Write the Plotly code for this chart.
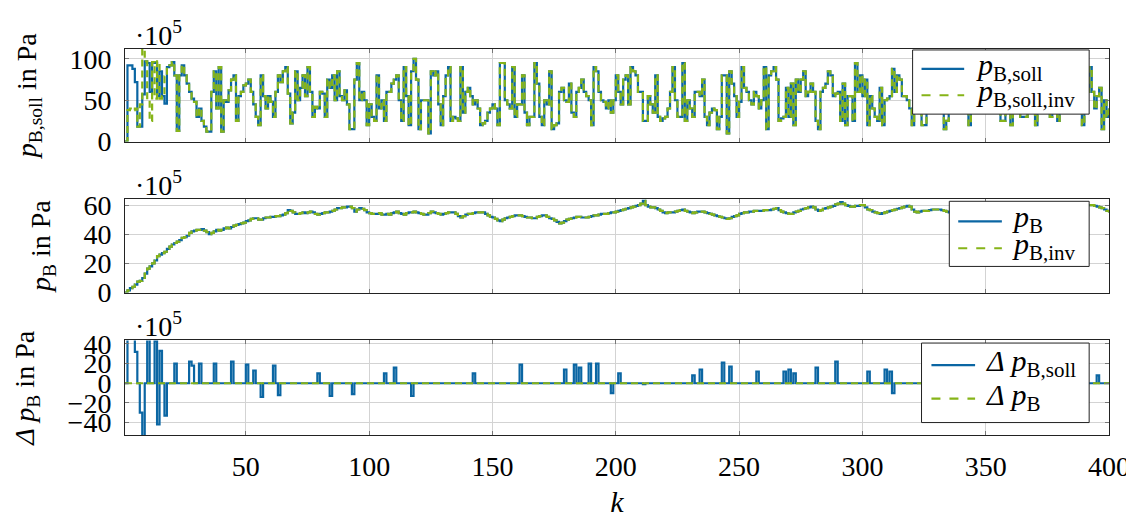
import plotly.graph_objects as go
from plotly.subplots import make_subplots

# ---------------- data ----------------
k = list(range(1, 401))

p_soll = [
    0, 92, 92, 88, 72, 18, 18, 57, 97, 95,
    60, 96, 95, 55, 85, 55, 46, 90, 92, 96,
    80, 13, 80, 92, 80, 70, 60, 52, 48, 30,
    40, 25, 18, 12, 12, 60, 85, 40, 90, 12,
    50, 48, 62, 75, 80, 25, 55, 60, 68, 70,
    75, 60, 45, 30, 20, 80, 55, 40, 55, 48,
    30, 60, 80, 72, 85, 90, 58, 22, 35, 85,
    50, 65, 80, 55, 90, 60, 30, 42, 40, 60,
    58, 30, 75, 65, 80, 50, 85, 55, 50, 62,
    45, 15, 15, 75, 95, 50, 60, 50, 20, 45,
    30, 25, 80, 40, 50, 25, 60, 60, 70, 75,
    80, 50, 25, 90, 55, 20, 85, 100, 75, 15,
    50, 50, 50, 10, 85, 80, 85, 45, 20, 55,
    80, 90, 25, 30, 28, 25, 90, 35, 60, 65,
    55, 45, 50, 40, 20, 22, 25, 35, 40, 45,
    40, 20, 95, 95, 50, 45, 40, 90, 30, 45,
    45, 80, 35, 20, 30, 30, 95, 70, 30, 20,
    50, 45, 85, 15, 20, 22, 60, 65, 50, 48,
    70, 35, 30, 60, 65, 75, 60, 55, 50, 20,
    90, 85, 60, 50, 48, 40, 50, 35, 50, 80,
    60, 45, 75, 80, 45, 90, 85, 80, 60, 60,
    25, 25, 55, 45, 35, 80, 30, 25, 28, 30,
    40, 60, 90, 50, 30, 30, 95, 25, 50, 40,
    30, 60, 60, 55, 75, 30, 20, 35, 40, 38,
    15, 30, 80, 80, 10, 85, 70, 55, 30, 48,
    90, 65, 60, 50, 45, 60, 55, 40, 50, 90,
    15, 80, 85, 90, 75, 25, 28, 30, 65, 30,
    70, 20, 75, 60, 75, 85, 55, 60, 70, 60,
    25, 15, 60, 65, 70, 85, 80, 55, 58, 60,
    25, 70, 20, 55, 55, 25, 95, 60, 80, 55,
    75, 20, 55, 40, 30, 25, 65, 20, 50, 52,
    55, 88, 60, 80, 75, 55, 55, 50, 40, 20,
    50, 60, 45, 20, 20, 70, 55, 65, 45, 60,
    50, 40, 15, 25, 55, 60, 75, 50, 45, 70,
    55, 60, 20, 45, 80, 65, 50, 55, 70, 60,
    45, 85, 60, 50, 40, 25, 25, 55, 70, 20,
    50, 65, 75, 30, 30, 30, 60, 45, 80, 20,
    55, 65, 40, 70, 50, 30, 60, 50, 25, 45,
    70, 55, 60, 40, 65, 50, 75, 55, 20, 45,
    60, 90, 60, 40, 55, 65, 15, 50, 30, 40,
]

# first samples of the inverse-model setpoint (afterwards identical to p_soll)
p_soll_inv_head = [0, 38, 40, 38, 40, 18, 45, 112, 97, 50,
                   25, 96, 52, 97, 52, 55, 79]

# spikes of the difference signal (k -> value, 1e5 Pa)
dsoll_k = [2, 3, 4, 5, 7, 8, 10, 13, 14, 15, 17, 21, 27, 28, 31, 37, 44, 50, 53, 56,
           61, 63, 79, 84, 93, 106, 110, 117, 142, 161, 179, 183, 185, 189, 192, 198,
           201, 211, 231, 234, 243, 246, 257, 268, 270, 272, 281, 289, 302, 309, 311,
           312, 395]
dsoll_v = [52, 52, 48, 32, -30, -55, 45, 43, -42, 33, -33, 20, 22, 18, 20, 20, 22, 19, 13, -14,
           18, -12, 10, -13, -11, 10, 16, -13, 10, 19, 14, 19, 16, 20, 20, -10,
           10, -1, 8, 14, 21, 17, 12, 12, 14, 10, 16, 22, 12, 14, 12,
           -10, 8]

p_B = [
    0, 1.5, 3, 4, 5.5, 7.5, 8, 10, 13, 16.5,
    18, 20, 22, 25, 26, 27, 28, 30, 31.5, 33,
    34, 35, 36, 37.5, 38, 39, 41, 42, 42.5, 43,
    43, 43.5, 42.5, 41.5, 40, 41, 42, 43, 42.5, 43,
    44, 44.5, 44, 45, 46, 46.5, 47, 47.5, 48, 49,
    49.5, 50.5, 51, 51, 50, 50, 51, 51.5, 51.5, 52,
    52, 52.5, 52.5, 53, 53.5, 54.5, 56.5, 56, 55, 54,
    54, 54.5, 55, 54.5, 55, 55.5, 55, 54, 53.5, 54,
    54.5, 55, 55, 55.5, 56, 57, 58, 58, 58.5, 58.5,
    59, 59, 58, 55.5, 57, 58, 57.5, 56.5, 55, 54.5,
    54, 54, 54, 54.5, 53.5, 53.5, 54, 53.5, 54.5, 55,
    55.5, 54.5, 54, 53.5, 54.5, 55, 55, 55.5, 55, 54.5,
    54, 53.5, 53.5, 54.5, 55.5, 55, 54.5, 54, 53.5, 54,
    54.5, 55, 55, 55, 54, 52.5, 51.5, 52.5, 53.5, 54,
    54, 54.5, 55, 55, 55, 55, 54, 53, 52, 51.5,
    50.5, 49.5, 49, 50, 51, 51.5, 52, 52.5, 53, 53,
    53, 52.5, 52, 51.5, 51.5, 51, 51, 52, 52.5, 53,
    53, 52, 51, 50.5, 49.5, 48.5, 47.5, 48, 49, 50,
    50.5, 51, 51.5, 52, 52, 51.5, 51.5, 51.5, 52, 52.5,
    53, 53, 53.5, 54, 54, 54, 54.5, 55, 55, 55.5,
    56, 56.5, 57, 57.5, 58, 58.5, 59, 59.5, 60, 61,
    63, 60, 59, 58.5, 58.5, 58, 57, 56, 55, 54.5,
    55, 55, 55, 55.5, 56, 56.5, 57, 56, 55.5, 55,
    54.5, 55, 55.5, 55.5, 55.5, 55, 54.5, 54, 53.5, 53,
    52.5, 52, 51.5, 51, 50.5, 51, 52, 52.5, 53, 54,
    54.5, 55, 55, 55.5, 55.5, 56, 56, 56, 56, 56.5,
    56.5, 56.5, 57, 57.5, 58, 56.5, 55.5, 55, 54.5, 54,
    54, 55, 55.5, 56, 57, 57.5, 58, 58.5, 59, 58.5,
    57, 56, 56.5, 57.5, 58, 58.5, 59, 59.5, 60.5, 61,
    62, 61, 60, 59.5, 59, 59, 59.5, 59.5, 60, 60,
    58.5, 57, 56.5, 55.5, 55, 54.5, 54, 54.5, 55, 55.5,
    56, 56.5, 57, 57.5, 58, 58.5, 59, 59.5, 59, 57,
    55.5, 55, 55.5, 56, 56, 56, 56.5, 57, 57, 57,
    57, 56.5, 56, 55.5, 55, 55.5, 56, 56.5, 57, 57.5,
    57.5, 57, 56.5, 56, 56.5, 57, 57.5, 58, 58, 57.5,
    57, 56.5, 56, 56.5, 57, 57.5, 58, 58.5, 58, 57.5,
    57, 56.5, 56, 55.5, 56, 56.5, 57, 57.5, 57, 56.5,
    56, 56.5, 57, 57.5, 58, 58.5, 58, 57.5, 57, 57.5,
    58, 58.5, 59, 58.5, 58, 58.5, 59, 59.5, 59.5, 59.5,
    60, 60, 60, 59.5, 59, 58.5, 58, 57, 56, 55,
]

dp_B = [0.0] * len(k)

x_ticks = [50, 100, 150, 200, 250, 300, 350, 400]

# assembled series
dp_soll = [0.0] * len(k)
for kk, vv in zip(dsoll_k, dsoll_v):
    dp_soll[kk - 1] = vv
p_soll_inv = p_soll_inv_head + p_soll[len(p_soll_inv_head):]
p_B_inv = list(p_B)

# ---------------- style / layout ----------------
BLUE = "#0b66a3"
GREEN = "#86b418"
DASH = "7px,4px"
FONT = "Liberation Serif, Times New Roman, serif"
FS = 28
W, H = 1134, 517
ML, MR, MT, MB = 117, 25, 41, 73
PW, PH = W - ML - MR, H - MT - MB


def px(xp):
    return (xp - ML) / PW


def py(yp):
    return min(1.0, max(0.0, (H - MB - yp) / PH))


fig = make_subplots(rows=3, cols=1, shared_xaxes=True)


def add(row, y, color, dash):
    fig.add_trace(go.Scatter(
        x=k, y=y, mode="lines", line_shape="hv", showlegend=False,
        line=dict(color=color, width=2.2, dash=dash),
    ), row=row, col=1)


add(1, p_soll, BLUE, "solid")
add(1, p_soll_inv, GREEN, DASH)
add(2, p_B, BLUE, "solid")
add(2, p_B_inv, GREEN, DASH)
add(3, dp_soll, BLUE, "solid")
add(3, dp_B, GREEN, DASH)

axis_common = dict(
    showline=True, linecolor="#222", linewidth=1, mirror="ticks",
    showgrid=True, gridcolor="#d3d3d3", gridwidth=1,
    ticks="inside", ticklen=4, tickcolor="#777",
    tickfont=dict(family=FONT, size=FS, color="black"),
    zeroline=False,
)

for i in (1, 2, 3):
    fig.update_xaxes(range=[1, 400], tickvals=x_ticks, row=i, col=1, **axis_common)
fig.update_xaxes(ticklabelstandoff=6,
                 title=dict(text="<i>k</i>", font=dict(family=FONT, size=FS + 2), standoff=10),
                 row=3, col=1)

ydomains = [[py(137.7), 1.0], [py(295.3), py(197.3)], [0.0, py(345.3)]]
ytitle_font = dict(family=FONT, size=FS, color="black")
TSO = 24
fig.update_yaxes(range=[0, 111.9], tickvals=[0, 50, 100], row=1, col=1, domain=ydomains[0],
                 ticklabelstandoff=7, **axis_common,
                 title=dict(text="<i>p</i><sub>B,soll</sub> in Pa", font=ytitle_font, standoff=TSO))
fig.update_yaxes(range=[0, 64.4], tickvals=[0, 20, 40, 60], row=2, col=1, domain=ydomains[1],
                 ticklabelstandoff=7, **axis_common,
                 title=dict(text="<i>p</i><sub>B</sub> in Pa", font=ytitle_font, standoff=TSO))
fig.update_yaxes(range=[-52.7, 43.6], tickvals=[-40, -20, 0, 20, 40], row=3, col=1, domain=ydomains[2],
                 ticklabelstandoff=7, **axis_common,
                 title=dict(text="<i>Δ p</i><sub>B</sub> in Pa", font=ytitle_font, standoff=TSO))

for dom in ydomains:
    fig.add_annotation(text="·10<sup>5</sup>", xref="paper", yref="paper", x=px(125), y=dom[1],
                       xanchor="left", yanchor="bottom", showarrow=False, yshift=-4,
                       font=dict(family=FONT, size=FS, color="black"))

# ---------------- legends (drawn as boxes) ----------------
legends = [
    ((911, 1089, 42, 109), (920, 963), 973,
     [(61.7, "<i>p</i><sub>B,soll</sub>", BLUE, "solid"),
      (89.3, "<i>p</i><sub>B,soll,inv</sub>", GREEN, "dash")]),
    ((948, 1089, 200, 268), (957, 1001), 1009,
     [(221, "<i>p</i><sub>B</sub>", BLUE, "solid"),
      (249, "<i>p</i><sub>B,inv</sub>", GREEN, "dash")]),
    ((920, 1089, 348, 431), (930, 974), 983,
     [(371, "<i>Δ p</i><sub>B,soll</sub>", BLUE, "solid"),
      (406, "<i>Δ p</i><sub>B</sub>", GREEN, "dash")]),
]

for (bx0, bx1, by0, by1), (lx0, lx1), tx, entries in legends:
    fig.add_shape(type="rect", xref="paper", yref="paper", layer="above",
                  x0=px(bx0), x1=px(bx1), y0=py(by1), y1=py(by0),
                  fillcolor="white", line=dict(color="#222", width=1))
    for ey, text, color, dash in entries:
        fig.add_shape(type="line", xref="paper", yref="paper", layer="above",
                      x0=px(lx0), x1=px(lx1), y0=py(ey), y1=py(ey),
                      line=dict(color=color, width=2.2, dash=dash))
        fig.add_annotation(text=text, xref="paper", yref="paper", x=px(tx), y=py(ey),
                           xanchor="left", yanchor="middle", showarrow=False, yshift=2,
                           font=dict(family=FONT, size=FS + 2, color="black"))

fig.update_layout(
    width=W, height=H,
    margin=dict(l=ML, r=MR, t=MT, b=MB),
    plot_bgcolor="white", paper_bgcolor="white",
    font=dict(family=FONT, size=FS, color="black"),
    showlegend=False,
)

fig.write_html("out.html")
